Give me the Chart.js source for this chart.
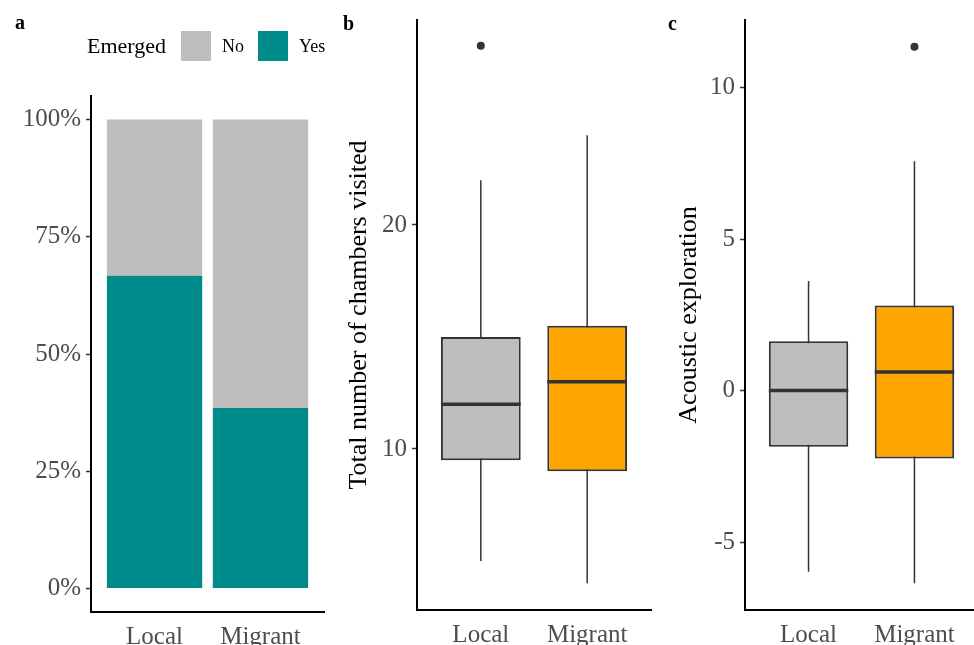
<!DOCTYPE html>
<html>
<head>
<meta charset="utf-8">
<script src="https://cdn.jsdelivr.net/npm/chart.js@4.4.1/dist/chart.umd.min.js"></script>
<style>
  html, body { margin: 0; padding: 0; background: #fff; width: 974px; height: 645px; overflow: hidden; }
  canvas { position: absolute; top: 0; }
  .tag { position: absolute; z-index: 2; font: bold 20px "Liberation Serif", "Times New Roman", serif; line-height: 20px; color: #000; }
</style>
</head>
<body>
<div class="tag" style="left:15px;top:12px">a</div>
<div class="tag" style="left:343px;top:13px">b</div>
<div class="tag" style="left:668px;top:13px">c</div>
<canvas id="panel-a" width="340" height="645" style="left:0"></canvas>
<canvas id="panel-b" width="330" height="645" style="left:340px"></canvas>
<canvas id="panel-c" width="320" height="645" style="left:670px"></canvas>
<script>
const groups = ["Local", "Migrant"];
const groupPos = [1, 2];

// panel a - emerged or not (%)
const emergedYes = [66.7, 38.5];
const emergedNo = [33.3, 61.5];
const percentTicks = [0, 25, 50, 75, 100];

// panel b - total number of chambers visited
const chambersLow = [5, 4];
const chambersQ1 = [9.5, 9];
const chambersMedian = [12, 13];
const chambersQ3 = [15, 15.5];
const chambersHigh = [22, 24];
const chambersOutliers = [[28], []];
const chambersTicks = [10, 20];

// panel c - acoustic exploration
const acousticLow = [-5.98, -6.36];
const acousticQ1 = [-1.85, -2.24];
const acousticMedian = [0, 0.61];
const acousticQ3 = [1.63, 2.81];
const acousticHigh = [3.62, 7.57];
const acousticOutliers = [[], [11.35]];
const acousticTicks = [-5, 0, 5, 10];

const boxColors = ["#BEBEBE", "#FFA500"];
const serif = '"Liberation Serif", "Times New Roman", serif';

Chart.defaults.font.family = serif;
Chart.defaults.animation = false;
Chart.defaults.plugins.legend.display = false;
Chart.defaults.plugins.tooltip.enabled = false;

function xAxis(height) {
  return {
    type: "linear",
    min: 0.4,
    max: 2.6,
    offset: false,
    stacked: true,
    afterBuildTicks: axis => { axis.ticks = groupPos.map(v => ({ value: v })); },
    afterFit: axis => { axis.height = height; },
    grid: { display: false, offset: false },
    border: { display: true, color: "#000", width: 2 },
    ticks: { color: "#4d4d4d", font: { size: 25 }, padding: 2, maxRotation: 0, autoSkip: false,
      callback: (v, i) => groups[i] }
  };
}

function yAxis(min, max, ticks, width, fmt, title, stacked) {
  return {
    min: min,
    max: max,
    stacked: stacked,
    afterBuildTicks: axis => { axis.ticks = ticks.map(v => ({ value: v })); },
    afterFit: axis => { axis.width = width; },
    grid: { drawOnChartArea: false, drawTicks: true, tickLength: 5, tickColor: "#333", tickWidth: 1.5 },
    border: { display: true, color: "#000", width: 2 },
    ticks: { color: "#4d4d4d", font: { size: 25 }, padding: 5, callback: fmt },
    title: title
      ? { display: true, text: title, color: "#000", font: { size: 26 }, padding: { top: 4, bottom: 0 } }
      : { display: false }
  };
}

// whiskers behind the box, median on top of it
const boxWhiskers = {
  id: "boxWhiskers",
  beforeDatasetsDraw(chart) {
    const ds = chart.data.datasets[0];
    const meta = chart.getDatasetMeta(0);
    const y = chart.scales.y;
    const ctx = chart.ctx;
    ctx.save();
    ctx.strokeStyle = "#333";
    ctx.lineWidth = 1.5;
    meta.data.forEach((bar, i) => {
      ctx.beginPath();
      ctx.moveTo(bar.x, y.getPixelForValue(ds.whiskerLow[i]));
      ctx.lineTo(bar.x, y.getPixelForValue(ds.whiskerHigh[i]));
      ctx.stroke();
    });
    ctx.restore();
  },
  afterDatasetsDraw(chart) {
    const ds = chart.data.datasets[0];
    const meta = chart.getDatasetMeta(0);
    const y = chart.scales.y;
    const ctx = chart.ctx;
    ctx.save();
    ctx.strokeStyle = "#333";
    ctx.lineWidth = 3.5;
    meta.data.forEach((bar, i) => {
      const py = y.getPixelForValue(ds.median[i]);
      ctx.beginPath();
      ctx.moveTo(bar.x - bar.width / 2, py);
      ctx.lineTo(bar.x + bar.width / 2, py);
      ctx.stroke();
    });
    ctx.restore();
  }
};

const emergedLegend = {
  id: "emergedLegend",
  afterDraw(chart) {
    const ctx = chart.ctx;
    const items = [chart.data.datasets[1], chart.data.datasets[0]];
    const boxX = [181, 258];
    ctx.save();
    ctx.textBaseline = "middle";
    ctx.fillStyle = "#000";
    ctx.font = "22px " + serif;
    ctx.fillText("Emerged", 87, 47);
    ctx.font = "18px " + serif;
    items.forEach((ds, i) => {
      ctx.fillStyle = ds.backgroundColor;
      ctx.fillRect(boxX[i], 31, 30, 30);
      ctx.fillStyle = "#000";
      ctx.fillText(ds.label, boxX[i] + 41, 47);
    });
    ctx.restore();
  }
};

function boxChart(id, low, q1, med, q3, high, outliers, ticks, min, max, yWidth, padRight, title) {
  return new Chart(id, {
    type: "bar",
    data: {
      datasets: [{
        data: groupPos.map((x, i) => ({ x: x, y: [q1[i], q3[i]] })),
        backgroundColor: boxColors,
        borderColor: "#333",
        borderWidth: 2,
        borderSkipped: false,
        barPercentage: 0.75,
        categoryPercentage: 1,
        whiskerLow: low,
        whiskerHigh: high,
        median: med
      }, {
        type: "scatter",
        data: groupPos.flatMap((x, i) => outliers[i].map(v => ({ x: x, y: v }))),
        pointRadius: 4,
        pointBackgroundColor: "#333",
        pointBorderWidth: 0
      }]
    },
    options: {
      responsive: false,
      layout: { padding: { top: 20, right: padRight, left: 0, bottom: 0 } },
      scales: {
        x: xAxis(35),
        y: yAxis(min, max, ticks, yWidth, v => String(v), title, false)
      }
    },
    plugins: [boxWhiskers]
  });
}

new Chart("panel-a", {
  type: "bar",
  data: {
    datasets: [{
      label: "Yes",
      data: groupPos.map((x, i) => ({ x: x, y: emergedYes[i] })),
      backgroundColor: "#008B8B",
      barPercentage: 0.9,
      categoryPercentage: 1
    }, {
      label: "No",
      data: groupPos.map((x, i) => ({ x: x, y: emergedNo[i] })),
      backgroundColor: "#BEBEBE",
      barPercentage: 0.9,
      categoryPercentage: 1
    }]
  },
  options: {
    responsive: false,
    layout: { padding: { top: 96, right: 16, left: 0, bottom: 0 } },
    scales: {
      x: xAxis(33),
      y: yAxis(-5, 105, percentTicks, 91, v => v + "%", null, true)
    }
  },
  plugins: [emergedLegend]
});

boxChart("panel-b", chambersLow, chambersQ1, chambersMedian, chambersQ3, chambersHigh, chambersOutliers,
  chambersTicks, 2.81, 29.15, 77, 19, "Total number of chambers visited");

boxChart("panel-c", acousticLow, acousticQ1, acousticMedian, acousticQ3, acousticHigh, acousticOutliers,
  acousticTicks, -7.24, 12.23, 75, 12, "Acoustic exploration");
</script>
</body>
</html>
